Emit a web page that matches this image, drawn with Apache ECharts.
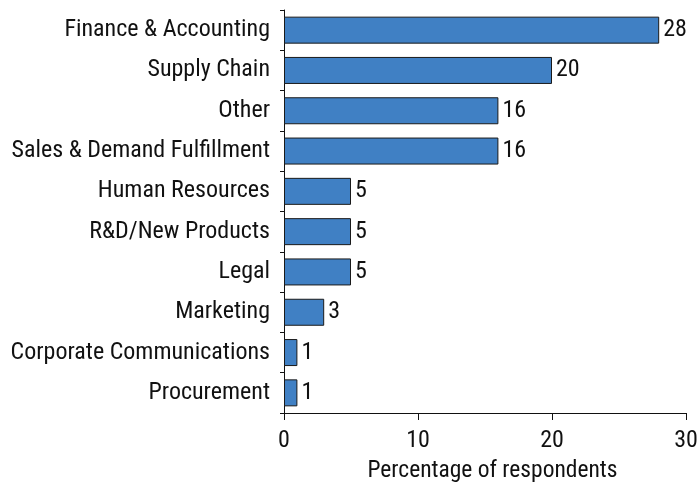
<!DOCTYPE html>
<html>
<head>
<meta charset="utf-8">
<script src="https://cdn.jsdelivr.net/npm/echarts@6/dist/echarts.min.js"></script>
<style>
  html, body { margin: 0; padding: 0; background: #fff; }
  #chart { width: 700px; height: 485px; }
</style>
</head>
<body>
<div id="chart"></div>
<script>
// top to bottom as in the picture
var categories = [
  'Finance & Accounting',
  'Supply Chain',
  'Other',
  'Sales & Demand Fulfillment',
  'Human Resources',
  'R&D/New Products',
  'Legal',
  'Marketing',
  'Corporate Communications',
  'Procurement'
]
var values = [28, 20, 16, 16, 5, 5, 5, 3, 1, 1]
var xTicks = [0, 10, 20, 30]

var font = '"Roboto Condensed", sans-serif'
var ink = '#111111'

var chart = echarts.init(document.getElementById('chart'), null, {renderer: 'canvas'})

chart.setOption({
  animation: false,
  grid: {
    left: 284,
    right: 14,
    top: 10,
    bottom: 72,
    containLabel: false,
    outerBoundsMode: 'none'
  },
  xAxis: {
    type: 'value',
    min: xTicks[0],
    max: xTicks[xTicks.length - 1],
    interval: 10,
    name: 'Percentage of respondents',
    nameLocation: 'middle',
    nameGap: 46,
    nameTextStyle: {
      color: ink,
      fontFamily: font,
      fontSize: 23.5,
      padding: [0, 0, 0, 15]
    },
    axisLine: {
      show: true,
      lineStyle: {color: ink, width: 1}
    },
    axisTick: {
      show: true,
      length: 7,
      lineStyle: {color: ink}
    },
    axisLabel: {
      color: ink,
      fontFamily: font,
      fontSize: 24,
      margin: 16
    },
    splitLine: {show: false}
  },
  yAxis: {
    type: 'category',
    inverse: true,
    data: categories,
    axisLine: {
      show: true,
      lineStyle: {color: ink, width: 1}
    },
    axisTick: {
      show: true,
      length: 4,
      lineStyle: {color: ink}
    },
    axisLabel: {
      color: ink,
      fontFamily: font,
      fontSize: 24,
      margin: 14
    }
  },
  series: [{
    type: 'bar',
    data: values,
    barWidth: 27,
    itemStyle: {
      color: '#4080c4',
      borderColor: '#1a1a1a',
      borderWidth: 1
    },
    label: {
      show: true,
      position: 'right',
      distance: 4,
      color: ink,
      fontFamily: font,
      fontSize: 24
    }
  }]
})
</script>
</body>
</html>
